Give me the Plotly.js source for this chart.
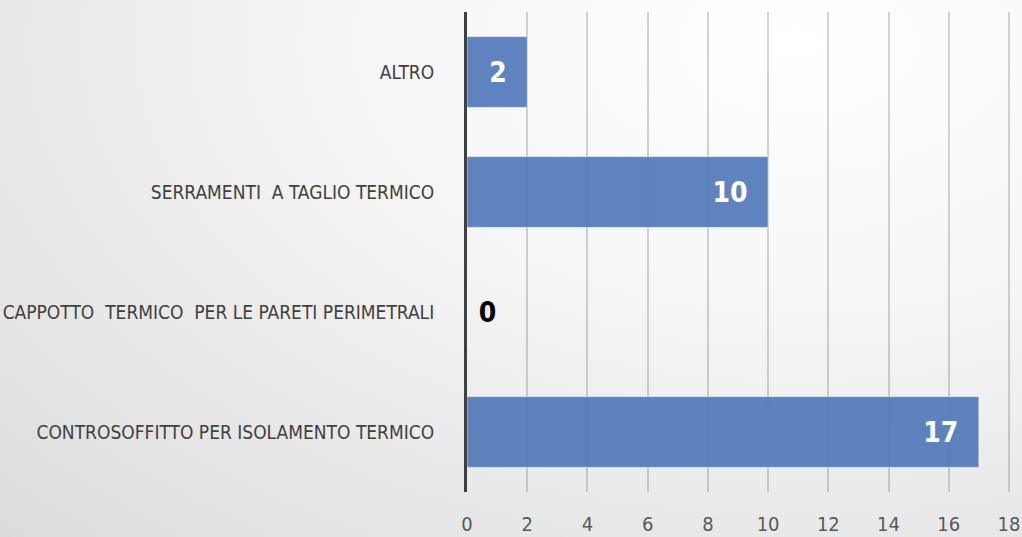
<!DOCTYPE html>
<html>
<head>
<meta charset="utf-8">
<script src="https://cdn.plot.ly/plotly-3.0.1.min.js"></script>
<style>
html,body{margin:0;padding:0;width:1022px;height:537px;overflow:hidden;}
body{background:radial-gradient(ellipse 120% 140% at 78% 8%, #ffffff 0%, #f6f6f6 35%, #e4e4e4 75%, #d8d8d8 100%);}
#chart{width:1022px;height:537px;}
</style>
</head>
<body>
<div id="chart"></div>
<script>
const categories = [
  "CONTROSOFFITTO PER ISOLAMENTO TERMICO",
  "CAPPOTTO  TERMICO  PER LE PARETI PERIMETRALI",
  "SERRAMENTI  A TAGLIO TERMICO",
  "ALTRO"
];
const values = [17, 0, 10, 2];
const labelPositions = ["inside", "outside", "inside", "inside"];
const xTicks = [0, 2, 4, 6, 8, 10, 12, 14, 16, 18];

const font = "'DejaVu Sans Condensed', 'Liberation Sans Narrow', sans-serif";

const trace = {
  type: "bar",
  orientation: "h",
  y: categories,
  x: values,
  text: values.map((v, i) => labelPositions[i] === "inside" ? v + "\u00a0\u00a0" : "\u00a0" + v),
  textposition: labelPositions,
  insidetextanchor: "end",
  textangle: 0,
  constraintext: "none",
  cliponaxis: false,
  insidetextfont: {family: font, size: 28, color: "#ffffff", weight: "bold"},
  outsidetextfont: {family: font, size: 28, color: "#000000", weight: "bold"},
  marker: {color: "#4f77b8", opacity: 0.9, line: {color: "rgba(255,255,255,0.6)", width: 1}},
  width: 0.59,
  hoverinfo: "skip"
};

const layout = {
  width: 1022, height: 537,
  margin: {l: 467, r: 10, t: 12, b: 45},
  paper_bgcolor: "rgba(0,0,0,0)",
  plot_bgcolor: "rgba(0,0,0,0)",
  showlegend: false,
  xaxis: {
    range: [0, 18.1],
    tickvals: xTicks,
    ticktext: xTicks.map(String),
    showgrid: true,
    gridcolor: "rgba(100,100,100,0.28)",
    gridwidth: 2,
    zeroline: false,
    showline: false,
    ticks: "outside",
    ticklen: 14,
    tickcolor: "rgba(0,0,0,0)",
    tickfont: {family: font, size: 20, color: "#595959"},
    ticklabeloverflow: "allow",
    fixedrange: true
  },
  yaxis: {
    type: "category",
    categoryorder: "array",
    categoryarray: categories,
    showgrid: false,
    zeroline: false,
    showline: true,
    linecolor: "#404040",
    linewidth: 3,
    ticks: "outside",
    ticklen: 26,
    tickcolor: "rgba(0,0,0,0)",
    tickfont: {family: font, size: 19, color: "#404040"},
    fixedrange: true
  }
};

Plotly.newPlot("chart", [trace], layout, {displayModeBar: false, staticPlot: true});
</script>
</body>
</html>
